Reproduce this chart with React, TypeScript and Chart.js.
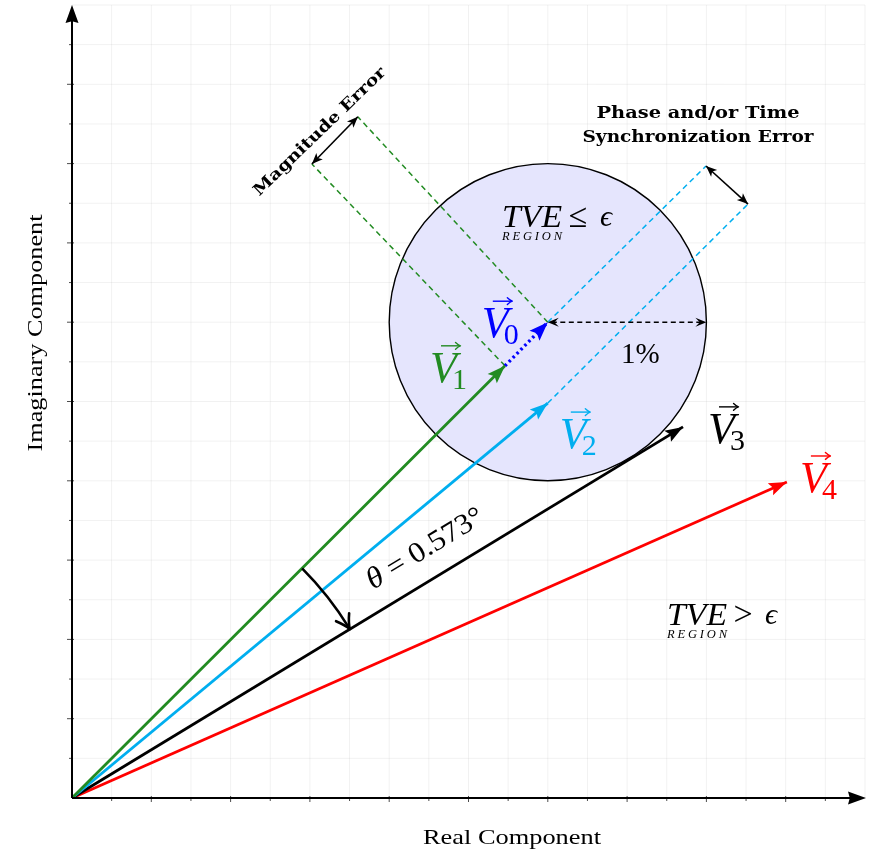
import React, { useEffect, useRef } from 'react';
import { Chart, registerables } from 'chart.js';

Chart.register(...registerables);

// ---------------- data ----------------
const axisMin = 0;
const axisMax = 20;
const gridStep = 1;

const vectorNames = ['0', '1', '2', '3', '4'];
const vectorX = [12.0, 10.92, 12.0, 15.41, 18.03];
const vectorY = [12.0, 10.9, 9.96, 9.36, 7.97];
const vectorColors = ['#0000ff', '#228b22', '#00aeef', '#000000', '#ff0000'];

const circleRadius = 4; // TVE region around V0
const magnitudeGuideX = [6.05, 7.21]; // guide ends: from V1, from V0
const magnitudeGuideY = [15.99, 17.18];
const phaseGuideX = [15.99, 17.05]; // guide ends: from V0, from V2
const phaseGuideY = [15.94, 14.98];
const thetaArcRadius = 8.2;

const thetaSymbol = 'θ';
const thetaValue = ' = 0.573°';
const percentLabel = '1%';
const xAxisTitle = 'Real Component';
const yAxisTitle = 'Imaginary Component';
const magnitudeTitle = 'Magnitude Error';
const phaseTitle = ['Phase and/or Time', 'Synchronization Error'];
const tveWord = 'TVE';
const regionWord = 'REGION';
const insideRelation = '≤';
const outsideRelation = '>';
const epsilon = 'ϵ';

// ---------------- drawing helpers ----------------
const SERIF = '"Liberation Serif", "DejaVu Serif", serif';
const BOLD = '"DejaVu Serif", "Liberation Serif", serif';

function fillHead(ctx: CanvasRenderingContext2D, fx: number, fy: number, tx: number, ty: number, len: number, half: number, color: string, notch = 0.82) {
  const a = Math.atan2(ty - fy, tx - fx);
  ctx.save();
  ctx.translate(tx, ty);
  ctx.rotate(a);
  ctx.fillStyle = color;
  ctx.beginPath();
  ctx.moveTo(0, 0);
  ctx.lineTo(-len, -half);
  ctx.lineTo(-len * notch, 0);
  ctx.lineTo(-len, half);
  ctx.closePath();
  ctx.fill();
  ctx.restore();
}

function openHead(ctx: CanvasRenderingContext2D, tx: number, ty: number, angle: number, len: number, spread: number, color: string, lw: number) {
  ctx.save();
  ctx.translate(tx, ty);
  ctx.rotate(angle);
  ctx.strokeStyle = color;
  ctx.lineWidth = lw;
  ctx.lineCap = 'round';
  ctx.lineJoin = 'round';
  ctx.setLineDash([]);
  const bx = -len * Math.cos(spread);
  const by = len * Math.sin(spread);
  ctx.beginPath();
  ctx.moveTo(bx, -by);
  ctx.quadraticCurveTo(-len * 0.35, -by * 0.2, 0, 0);
  ctx.quadraticCurveTo(-len * 0.35, by * 0.2, bx, by);
  ctx.stroke();
  ctx.restore();
}

function textFit(ctx: CanvasRenderingContext2D, text: string, cx: number, cy: number, width: number, font: string, color: string, angle = 0, baseline: CanvasTextBaseline = 'alphabetic') {
  ctx.save();
  ctx.font = font;
  ctx.fillStyle = color;
  ctx.textBaseline = baseline;
  ctx.textAlign = 'left';
  const w = ctx.measureText(text).width;
  ctx.translate(cx, cy);
  ctx.rotate(angle);
  ctx.scale(width / w, 1);
  ctx.fillText(text, -w / 2, 0);
  ctx.restore();
}

function spacedText(ctx: CanvasRenderingContext2D, text: string, left: number, right: number, base: number, font: string, color: string) {
  ctx.save();
  ctx.font = font;
  ctx.fillStyle = color;
  ctx.textBaseline = 'alphabetic';
  ctx.textAlign = 'left';
  const ws = text.split('').map((c) => ctx.measureText(c).width);
  const total = ws.reduce((a, b) => a + b, 0);
  const gap = (right - left - total) / (text.length - 1);
  let x = left;
  text.split('').forEach((c, i) => {
    ctx.fillText(c, x, base);
    x += ws[i] + gap;
  });
  ctx.restore();
}

function vecLabel(ctx: CanvasRenderingContext2D, sub: string, x: number, base: number, color: string) {
  ctx.save();
  ctx.fillStyle = color;
  ctx.strokeStyle = color;
  ctx.textBaseline = 'alphabetic';
  ctx.textAlign = 'left';
  ctx.font = `italic 44px ${SERIF}`;
  ctx.fillText('V', x, base);
  ctx.font = `30px ${SERIF}`;
  ctx.fillText(sub, x + 22, base + 7);
  // vector arrow over the V
  const ay = base - 36;
  ctx.lineWidth = 1.4;
  ctx.beginPath();
  ctx.moveTo(x + 11, ay);
  ctx.lineTo(x + 30, ay);
  ctx.stroke();
  openHead(ctx, x + 30.5, ay, 0, 6, 0.6, color, 1.4);
  ctx.restore();
}

// label placement relative to each vector tip (pixels)
const labelOffsets = [
  [-66, 15],
  [-75, 16],
  [12, 45],
  [25, 16],
  [13, 10],
];

const diagramPlugin = {
  id: 'diagram',
  beforeDatasetsDraw(chart: any) {
    const { ctx, scales } = chart;
    const X = (v: number) => scales.x.getPixelForValue(v);
    const Y = (v: number) => scales.y.getPixelForValue(v);
    ctx.save();
    ctx.strokeStyle = 'rgba(0,0,0,0.055)';
    ctx.lineWidth = 1;
    for (let v = axisMin; v <= axisMax; v += gridStep) {
      ctx.beginPath();
      ctx.moveTo(X(v), Y(axisMin));
      ctx.lineTo(X(v), Y(axisMax));
      ctx.stroke();
      ctx.beginPath();
      ctx.moveTo(X(axisMin), Y(v));
      ctx.lineTo(X(axisMax), Y(v));
      ctx.stroke();
    }
    const cx = X(vectorX[0]);
    const cy = Y(vectorY[0]);
    const r = X(circleRadius) - X(0);
    ctx.beginPath();
    ctx.arc(cx, cy, r, 0, Math.PI * 2);
    ctx.fillStyle = 'rgb(229,229,253)';
    ctx.fill();
    ctx.strokeStyle = '#000';
    ctx.lineWidth = 1.4;
    ctx.stroke();
    ctx.restore();
  },
  afterDatasetsDraw(chart: any) {
    const { ctx, scales } = chart;
    const X = (v: number) => scales.x.getPixelForValue(v);
    const Y = (v: number) => scales.y.getPixelForValue(v);
    const ox = X(0);
    const oy = Y(0);
    ctx.save();

    // axes with arrows and ticks
    ctx.strokeStyle = '#000';
    ctx.lineWidth = 2;
    ctx.setLineDash([]);
    const xEnd = X(axisMax);
    const yEnd = Y(axisMax);
    ctx.beginPath();
    ctx.moveTo(ox, oy);
    ctx.lineTo(xEnd - 12, oy);
    ctx.moveTo(ox, oy);
    ctx.lineTo(ox, yEnd + 12);
    ctx.stroke();
    fillHead(ctx, ox, oy, xEnd + 1, oy, 18, 6.5, '#000', 0.9);
    fillHead(ctx, ox, oy, ox, yEnd, 18, 6.5, '#000', 0.9);
    ctx.lineWidth = 1;
    ctx.strokeStyle = 'rgba(0,0,0,0.7)';
    for (let v = axisMin + gridStep; v < axisMax; v += gridStep) {
      const long = v % 2 === 0;
      ctx.beginPath();
      ctx.moveTo(X(v), oy - (long ? 2 : 1));
      ctx.lineTo(X(v), oy + (long ? 4 : 3));
      ctx.moveTo(ox + (long ? 2 : 1), Y(v));
      ctx.lineTo(ox - (long ? 5 : 3), Y(v));
      ctx.stroke();
    }

    // vector arrowheads
    for (let i = 1; i < vectorX.length; i++) {
      fillHead(ctx, ox, oy, X(vectorX[i]), Y(vectorY[i]), 18, 6.5, vectorColors[i]);
    }
    fillHead(ctx, X(vectorX[1]), Y(vectorY[1]), X(vectorX[0]), Y(vectorY[0]), 19, 7, vectorColors[0]);

    // magnitude and phase double arrows
    const dbl = (x0: number, y0: number, x1: number, y1: number) => {
      ctx.save();
      ctx.strokeStyle = '#000';
      ctx.lineWidth = 1.6;
      ctx.setLineDash([]);
      ctx.beginPath();
      ctx.moveTo(x0, y0);
      ctx.lineTo(x1, y1);
      ctx.stroke();
      fillHead(ctx, x1, y1, x0, y0, 11, 4.5, '#000', 0.75);
      fillHead(ctx, x0, y0, x1, y1, 11, 4.5, '#000', 0.75);
      ctx.restore();
    };
    dbl(X(magnitudeGuideX[0]), Y(magnitudeGuideY[0]), X(magnitudeGuideX[1]), Y(magnitudeGuideY[1]));
    dbl(X(phaseGuideX[0]), Y(phaseGuideY[0]), X(phaseGuideX[1]), Y(phaseGuideY[1]));

    // 1% radius arrow
    const rx0 = X(vectorX[0]);
    const ry0 = Y(vectorY[0]);
    const rx1 = X(vectorX[0] + circleRadius);
    ctx.save();
    ctx.strokeStyle = '#000';
    ctx.lineWidth = 1.4;
    ctx.setLineDash([5, 3.5]);
    ctx.beginPath();
    ctx.moveTo(rx0 + 4, ry0);
    ctx.lineTo(rx1 - 4, ry0);
    ctx.stroke();
    ctx.restore();
    fillHead(ctx, rx1, ry0, rx0, ry0, 11, 4.5, '#000', 0.6);
    fillHead(ctx, rx0, ry0, rx1, ry0, 11, 4.5, '#000', 0.6);

    // theta arc
    const rArc = X(thetaArcRadius) - X(0);
    const a0 = Math.atan2(Y(vectorY[1]) - oy, X(vectorX[1]) - ox);
    const a1 = Math.atan2(Y(vectorY[3]) - oy, X(vectorX[3]) - ox);
    ctx.save();
    ctx.strokeStyle = '#000';
    ctx.lineWidth = 2.6;
    ctx.setLineDash([]);
    ctx.beginPath();
    ctx.arc(ox, oy, rArc, a0, a1 - 0.004, false);
    ctx.stroke();
    ctx.restore();
    const ex = ox + rArc * Math.cos(a1);
    const ey = oy + rArc * Math.sin(a1);
    openHead(ctx, ex, ey, a1 + Math.PI / 2, 16, 0.5, '#000', 2.6);

    // theta label
    {
      ctx.save();
      const angle = a1;
      ctx.translate(373, 590);
      ctx.rotate(angle);
      ctx.font = `italic 30px ${SERIF}`;
      const w1 = ctx.measureText(thetaSymbol).width;
      ctx.font = `29px ${SERIF}`;
      const w2 = ctx.measureText(thetaValue).width;
      const s = 132 / (w1 + w2);
      ctx.scale(s, 1);
      ctx.fillStyle = '#000';
      ctx.textBaseline = 'alphabetic';
      ctx.font = `italic 30px ${SERIF}`;
      ctx.fillText(thetaSymbol, 0, 0);
      ctx.font = `29px ${SERIF}`;
      ctx.fillText(thetaValue, w1, 0);
      ctx.restore();
    }

    // vector labels
    for (let i = 0; i < vectorX.length; i++) {
      const tx = X(vectorX[i]) + labelOffsets[i][0];
      const ty = Y(vectorY[i]) + labelOffsets[i][1];
      vecLabel(ctx, vectorNames[i], tx, ty, vectorColors[i]);
    }

    // TVE region labels
    const tve = (left: number, base: number, rel: string) => {
      ctx.save();
      ctx.fillStyle = '#000';
      ctx.textBaseline = 'alphabetic';
      ctx.textAlign = 'left';
      ctx.font = `italic 31px ${SERIF}`;
      const w = ctx.measureText(tveWord).width;
      ctx.save();
      ctx.translate(left, base);
      ctx.scale(60 / w, 1);
      ctx.fillText(tveWord, 0, 0);
      ctx.restore();
      ctx.font = `34px ${SERIF}`;
      const wr = ctx.measureText(rel).width;
      ctx.fillText(rel, left + 76 - wr / 2, base);
      ctx.font = `italic 30px ${SERIF}`;
      const we = ctx.measureText(epsilon).width;
      ctx.fillText(epsilon, left + 104 - we / 2, base - 1);
      ctx.restore();
      spacedText(ctx, regionWord, left, left + 60, base + 13, `italic 12.5px ${SERIF}`, '#000');
    };
    tve(502, 227, insideRelation);
    tve(667, 625, outsideRelation);

    // 1%
    ctx.save();
    ctx.fillStyle = '#000';
    ctx.font = `29px ${SERIF}`;
    ctx.textBaseline = 'alphabetic';
    ctx.fillText(percentLabel, 621, 363);
    ctx.restore();

    // titles
    textFit(ctx, magnitudeTitle, 320, 132, 177, `bold 16px ${BOLD}`, '#000', -44 * Math.PI / 180, 'middle');
    textFit(ctx, phaseTitle[0], 698, 118, 203, `bold 16px ${BOLD}`, '#000');
    textFit(ctx, phaseTitle[1], 698, 142, 231, `bold 16px ${BOLD}`, '#000');
    textFit(ctx, xAxisTitle, 512, 844, 178, `22px ${SERIF}`, '#000');
    textFit(ctx, yAxisTitle, 42, 333, 237, `22px ${SERIF}`, '#000', -Math.PI / 2);

    ctx.restore();
  },
};

const line = (pts: { x: number; y: number }[], color: string, width: number, dash: number[] = [], order = 1) => ({
  data: pts,
  borderColor: color,
  backgroundColor: color,
  borderWidth: width,
  borderDash: dash,
  borderCapStyle: 'butt',
  showLine: true,
  pointRadius: 0,
  fill: false,
  order,
});

export default function App() {
  const ref = useRef<HTMLCanvasElement | null>(null);
  useEffect(() => {
    if (!ref.current) return;
    const o = { x: 0, y: 0 };
    const tip = (i: number) => ({ x: vectorX[i], y: vectorY[i] });
    const green = vectorColors[1];
    const cyan = vectorColors[2];
    const datasets: any[] = [
      line([o, tip(1)], vectorColors[1], 2.8),
      line([o, tip(2)], vectorColors[2], 2.8),
      line([o, tip(3)], vectorColors[3], 2.8),
      line([o, tip(4)], vectorColors[4], 2.8),
      line([tip(1), tip(0)], vectorColors[0], 3.4, [2.4, 3.2]),
      line([tip(1), { x: magnitudeGuideX[0], y: magnitudeGuideY[0] }], green, 1.5, [5.5, 4], 2),
      line([tip(0), { x: magnitudeGuideX[1], y: magnitudeGuideY[1] }], green, 1.5, [5.5, 4], 2),
      line([tip(0), { x: phaseGuideX[0], y: phaseGuideY[0] }], cyan, 1.5, [5.5, 4], 2),
      line([tip(2), { x: phaseGuideX[1], y: phaseGuideY[1] }], cyan, 1.5, [5.5, 4], 2),
    ];
    const chart = new Chart(ref.current, {
      type: 'scatter',
      data: { datasets },
      options: {
        animation: false,
        responsive: false,
        events: [],
        layout: { padding: { left: 72, right: 6, top: 5, bottom: 52 } },
        scales: {
          x: { type: 'linear', min: axisMin, max: axisMax, display: false },
          y: { type: 'linear', min: axisMin, max: axisMax, display: false },
        },
        plugins: { legend: { display: false }, tooltip: { enabled: false } },
      },
      plugins: [diagramPlugin],
    } as any);
    return () => chart.destroy();
  }, []);
  return (
    <div style={{ position: 'absolute', left: 0, top: 0, width: 871, height: 850, background: '#fff' }}>
      <canvas ref={ref} width={871} height={850} style={{ width: 871, height: 850, display: 'block' }} />
    </div>
  );
}
